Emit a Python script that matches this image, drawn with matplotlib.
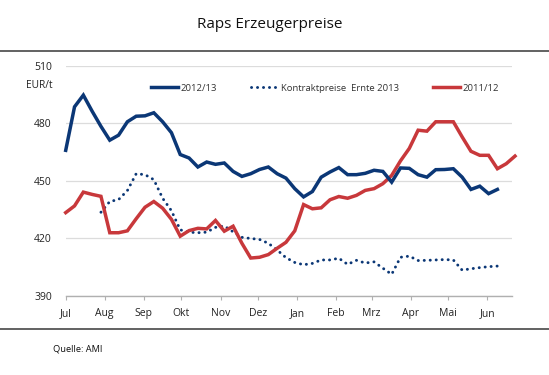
import matplotlib.pyplot as plt
import numpy as np

plt.rcParams['font.family'] = ['Open Sans', 'DejaVu Sans']

# weekly prices (EUR/t), first week = start of July
preis_2012_13 = [466, 488.7, 494.8, 486.4, 478.5, 471.3, 473.9, 480.9, 483.8, 484,
                 485.6, 480.9, 475.2, 463.8, 462, 457.3, 459.9, 458.7, 459.4, 455,
                 452.4, 453.8, 456, 457.3, 453.8, 451.5, 446, 441.7, 444.5, 452,
                 454.7, 457, 453.3, 453.3, 454, 455.6, 455, 449.4, 456.8, 456.6,
                 453.3, 452, 455.9, 456, 456.4, 452, 445.6, 447.3, 443.4, 445.6]
preis_2011_12 = [433.5, 437, 444.2, 443, 442, 423, 423, 424, 430.3, 436.3,
                 439.3, 435.8, 430, 421.2, 424.1, 425.3, 425, 429.4, 423.8, 426.4,
                 417.5, 409.8, 410.2, 411.6, 414.9, 418, 424, 437.7, 435.5, 436,
                 440.2, 441.9, 441, 442.5, 445.1, 446, 448.6, 452.9, 460.5, 467,
                 476.5, 476, 480.9, 480.9, 480.9, 473, 465.5, 463.4, 463.4, 456.4,
                 459, 463]
kontrakt_start = 4  # first week with contract prices
kontrakt_2013 = [433.7, 439.3, 440.3, 445, 453.8, 453.3, 450.7, 441, 434.5, 424.5,
                 423.3, 423, 423.3, 425.8, 426.5, 423.5, 420.6, 420, 419.5, 417.5,
                 414, 410, 407.5, 406.3, 407, 408.8, 408.8, 409.7, 406.5, 408.6,
                 407.2, 407.8, 404.5, 401.3, 410.2, 410.8, 408.5, 408.6, 408.8, 409,
                 408.8, 403.5, 404.2, 404.8, 405.3, 405.6]

monate = ['Jul', 'Aug', 'Sep', 'Okt', 'Nov', 'Dez', 'Jan', 'Feb', 'Mrz', 'Apr', 'Mai', 'Jun']
monat_tage = [0, 31, 62, 92, 123, 153, 184, 215, 243, 274, 304, 335]

blau = '#0b3776'
rot = '#c8383b'

fig = plt.figure(figsize=(5.49, 3.75), dpi=100)
ax = fig.add_axes([0.1197, 0.2107, 0.8138, 0.6133])

x1 = np.arange(len(preis_2012_13)) * 7
x2 = np.arange(len(preis_2011_12)) * 7
xk = (np.arange(len(kontrakt_2013)) + kontrakt_start) * 7

ax.plot(x1, preis_2012_13, color=blau, lw=2.5, label='2012/13', clip_on=False,
        solid_joinstyle='miter', zorder=4)
ax.plot(xk, kontrakt_2013, color=blau, lw=2.1, linestyle=(0, (0.05, 2.0)),
        dash_capstyle='round', label='Kontraktpreise  Ernte 2013', clip_on=False, zorder=3)
ax.plot(x2, preis_2011_12, color=rot, lw=2.5, label='2011/12', clip_on=False,
        solid_joinstyle='miter', zorder=3)

ax.set_xlim(0, 355)
ax.set_ylim(390, 510)
ax.set_yticks([390, 420, 450, 480, 510])
ax.set_xticks(monat_tage)
ax.set_xticklabels(monate)
ax.grid(axis='y', color='#dcdcdc', lw=0.9)
ax.set_axisbelow(True)
for s in ['top', 'right', 'left']:
    ax.spines[s].set_visible(False)
ax.spines['bottom'].set_color('#b0b0b0')
ax.spines['bottom'].set_linewidth(1.0)
ax.tick_params(axis='y', length=0, pad=10, labelsize=7.5, colors='#222222')
ax.tick_params(axis='x', length=3, color='#b0b0b0', pad=6, labelsize=7.5, labelcolor='#222222')

fig.text(53 / 549, 1 - 85 / 375, 'EUR/t', ha='right', va='center', fontsize=7.3, color='#222222')

ax.legend(loc='center', bbox_to_anchor=(0.58, 0.904), ncol=3, frameon=False, fontsize=6.8,
          handlelength=2.85, handletextpad=0.3, columnspacing=3.6, labelcolor='#333333')

fig.text(270 / 549, 1 - 24 / 375, 'Raps Erzeugerpreise', ha='center', va='center',
         fontsize=11, color='#111111')
fig.add_artist(plt.Line2D([0, 1], [1 - 51 / 375, 1 - 51 / 375], transform=fig.transFigure,
                          color='#555555', lw=1.3))
fig.add_artist(plt.Line2D([0, 1], [1 - 329 / 375, 1 - 329 / 375], transform=fig.transFigure,
                          color='#555555', lw=1.3))
fig.text(53 / 549, 1 - 349 / 375, 'Quelle: AMI', ha='left', va='center', fontsize=6.7, color='#111111')

fig.savefig('out.png', dpi=100)
